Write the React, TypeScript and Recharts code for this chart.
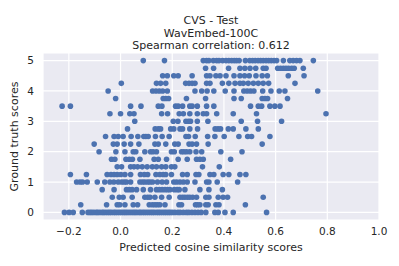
import React from 'react';
import { ScatterChart, Scatter, XAxis, YAxis, CartesianGrid } from 'recharts';

// Predicted cosine similarity (x) values for each ground-truth score level
const score500 = [0.088, 0.17, 0.32, 0.333, 0.342, 0.359, 0.372, 0.381, 0.395, 0.408, 0.419, 0.43, 0.44, 0.449, 0.459, 0.483, 0.5, 0.511, 0.521, 0.532, 0.542, 0.552, 0.563, 0.573, 0.583, 0.594, 0.604, 0.63, 0.655, 0.668, 0.681, 0.694, 0.746];
const score475 = [0.329, 0.36, 0.418, 0.462, 0.481, 0.501, 0.523, 0.552, 0.563, 0.608, 0.619, 0.63, 0.64, 0.65, 0.662, 0.672, 0.707];
const score450 = [0.163, 0.181, 0.206, 0.223, 0.277, 0.333, 0.346, 0.369, 0.385, 0.408, 0.439, 0.462, 0.48, 0.498, 0.524, 0.548, 0.568, 0.649, 0.71];
const score425 = [0.003, 0.139, 0.155, 0.175, 0.252, 0.265, 0.277, 0.288, 0.333, 0.346, 0.394, 0.419, 0.443, 0.462, 0.475, 0.494, 0.514, 0.533, 0.552, 0.573, 0.675];
const score400 = [-0.048, 0.124, 0.137, 0.15, 0.163, 0.181, 0.288, 0.314, 0.335, 0.361, 0.405, 0.439, 0.477, 0.49, 0.503, 0.516, 0.55, 0.582, 0.614, 0.636, 0.763];
const score375 = [-0.019, 0.165, 0.175, 0.186, 0.255, 0.329, 0.439, 0.467, 0.548, 0.559, 0.569, 0.646];
const score350 = [-0.226, -0.194, 0.039, 0.079, 0.146, 0.16, 0.213, 0.223, 0.24, 0.268, 0.277, 0.297, 0.333, 0.361, 0.503, 0.533, 0.546, 0.578, 0.597, 0.617];
const score325 = [-0.041, 0.0, 0.036, 0.052, 0.159, 0.182, 0.227, 0.243, 0.268, 0.297, 0.32, 0.333, 0.372, 0.436, 0.526, 0.795];
const score300 = [0.055, 0.204, 0.222, 0.253, 0.263, 0.271, 0.297, 0.338, 0.467, 0.53, 0.623];
const score275 = [0.027, 0.134, 0.146, 0.155, 0.194, 0.206, 0.23, 0.24, 0.268, 0.298, 0.366, 0.377, 0.387, 0.417, 0.436, 0.485, 0.533];
const score250 = [-0.058, -0.025, -0.009, 0.01, 0.041, 0.067, 0.09, 0.098, 0.107, 0.135, 0.161, 0.188, 0.253, 0.263, 0.289, 0.337, 0.365, 0.401, 0.458, 0.492, 0.507, 0.578];
const score225 = [-0.102, -0.028, -0.013, 0.014, 0.039, 0.071, 0.133, 0.146, 0.175, 0.21, 0.223, 0.265, 0.277, 0.294, 0.339, 0.548];
const score200 = [-0.083, -0.018, 0.017, 0.049, 0.059, 0.094, 0.116, 0.126, 0.139, 0.197, 0.208, 0.236, 0.245, 0.255, 0.268, 0.292, 0.314, 0.388, 0.47];
const score175 = [-0.035, -0.022, 0.021, 0.034, 0.046, 0.075, 0.13, 0.146, 0.178, 0.223, 0.258, 0.294, 0.307, 0.32, 0.426];
const score150 = [-0.013, 0.004, 0.039, 0.052, 0.066, 0.084, 0.103, 0.123, 0.139, 0.159, 0.175, 0.197, 0.21, 0.317, 0.382];
const score125 = [-0.194, -0.132, -0.052, -0.037, -0.025, -0.013, 0.001, 0.017, 0.039, 0.077, 0.092, 0.105, 0.137, 0.152, 0.165, 0.175, 0.197, 0.24, 0.258, 0.292, 0.303, 0.346, 0.361, 0.397, 0.419, 0.462, 0.485];
const score100 = [-0.17, -0.157, -0.147, -0.129, -0.09, -0.061, -0.041, -0.026, -0.009, 0.004, 0.014, 0.023, 0.039, 0.075, 0.085, 0.094, 0.105, 0.114, 0.124, 0.143, 0.161, 0.178, 0.206, 0.217, 0.23, 0.243, 0.258, 0.288, 0.333, 0.342, 0.374, 0.453];
const score075 = [-0.071, -0.025, 0.023, 0.034, 0.045, 0.062, 0.088, 0.116, 0.139, 0.15, 0.161, 0.172, 0.182, 0.191, 0.208, 0.219, 0.227, 0.249, 0.307, 0.342, 0.394];
const score050 = [-0.032, -0.005, 0.01, 0.045, 0.094, 0.105, 0.114, 0.133, 0.159, 0.188, 0.23, 0.24, 0.249, 0.259, 0.268, 0.279, 0.294, 0.33, 0.342, 0.378, 0.397, 0.414, 0.552];
const score025 = [-0.154, -0.054, -0.013, -0.003, 0.017, 0.049, 0.066, 0.111, 0.123, 0.133, 0.142, 0.152, 0.172, 0.226, 0.236, 0.29, 0.298, 0.307, 0.33, 0.339, 0.369, 0.381, 0.483];
const score000 = [-0.217, -0.199, -0.183, -0.148, -0.126, -0.118, -0.111, -0.103, -0.094, -0.088, -0.08, -0.071, -0.065, -0.057, -0.049, -0.042, -0.035, -0.026, -0.02, -0.012, -0.004, 0.003, 0.011, 0.018, 0.025, 0.033, 0.041, 0.049, 0.056, 0.063, 0.072, 0.078, 0.086, 0.093, 0.101, 0.109, 0.117, 0.124, 0.131, 0.14, 0.147, 0.154, 0.162, 0.17, 0.177, 0.185, 0.192, 0.2, 0.21, 0.222, 0.231, 0.243, 0.255, 0.264, 0.276, 0.288, 0.3, 0.312, 0.33, 0.365, 0.378, 0.404, 0.436, 0.565];

const scoreLevels = [5, 4.75, 4.5, 4.25, 4, 3.75, 3.5, 3.25, 3, 2.75, 2.5, 2.25, 2, 1.75, 1.5, 1.25, 1, 0.75, 0.5, 0.25, 0];
const scoreRows = [score500, score475, score450, score425, score400, score375, score350, score325, score300, score275, score250, score225, score200, score175, score150, score125, score100, score075, score050, score025, score000];

const xTicks = [-0.2, 0, 0.2, 0.4, 0.6, 0.8, 1.0];
const yTicks = [0, 1, 2, 3, 4, 5];
const titleLines = ['CVS - Test', 'WavEmbed-100C', 'Spearman correlation: 0.612'];

const points = scoreLevels.flatMap((s, i) => scoreRows[i].map((x) => ({ x, y: s })));

const FONT = 'DejaVu Sans';
const TEXT = '#262626';

const Dot = (props: any) => <circle cx={props.cx} cy={props.cy} r={2.8} fill="#4C72B0" />;

export default function App() {
  return (
    <div style={{ position: 'absolute', left: 0, top: 0, width: 399, height: 266, background: '#fff' }}>
      <ScatterChart width={399} height={266} margin={{ top: 53, right: 20, bottom: 0, left: 0 }}>
        <CartesianGrid fill="#EAEAF2" stroke="#ffffff" strokeWidth={1.2} />
        <XAxis
          type="number"
          dataKey="x"
          domain={[-0.3, 1.0]}
          ticks={xTicks}
          height={46}
          axisLine={false}
          tickLine={false}
          tickMargin={2}
          tick={{ fill: TEXT, fontSize: 10.5, fontFamily: FONT }}
          tickFormatter={(v: number) => v.toFixed(1).replace('-', '\u2212')}
          label={{ value: 'Predicted cosine similarity scores', position: 'insideBottom', offset: 15, fill: TEXT, fontSize: 11, fontFamily: FONT }}
        />
        <YAxis
          type="number"
          dataKey="y"
          domain={[-0.25, 5.25]}
          ticks={yTicks}
          width={43}
          axisLine={false}
          tickLine={false}
          tickMargin={3}
          tick={{ fill: TEXT, fontSize: 10.5, fontFamily: FONT }}
          label={{ value: 'Ground truth scores', angle: -90, position: 'insideLeft', offset: 14, fill: TEXT, fontSize: 11, fontFamily: FONT, style: { textAnchor: 'middle' } }}
        />
        <Scatter data={points} shape={Dot} isAnimationActive={false} />
      </ScatterChart>
      <svg width={399} height={266} style={{ position: 'absolute', left: 0, top: 0, pointerEvents: 'none' }}>
        {titleLines.map((t, i) => (
          <text key={t} x={211} y={24 + i * 12.7} textAnchor="middle" fontFamily={FONT} fontSize={11} fill={TEXT}>
            {t}
          </text>
        ))}
      </svg>
    </div>
  );
}
